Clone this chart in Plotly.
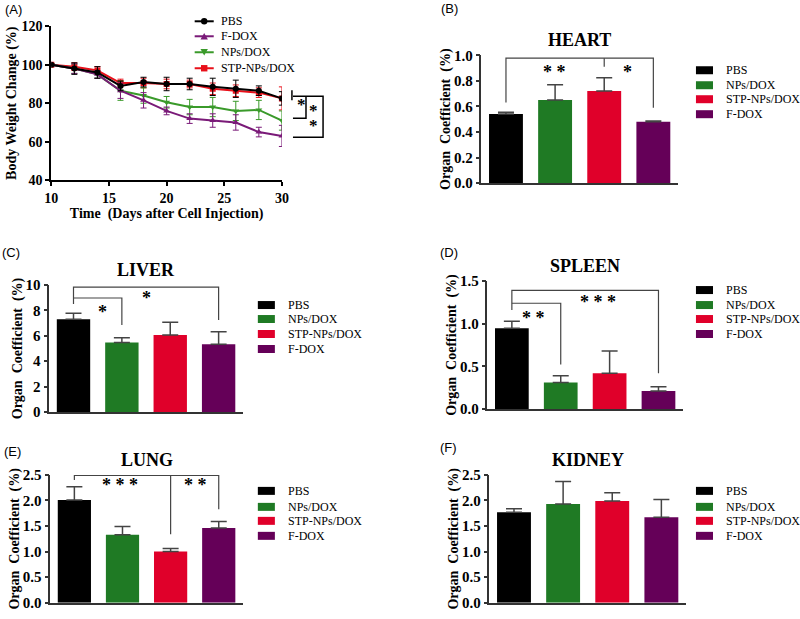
import plotly.graph_objects as go

W, H = 800, 619
# the photographed page comes out slightly shrunk toward an 8px border;
# layout positions below are given in final-picture pixels and mapped back here
AX, BX = 7.8, 0.98
AY, BY = 7.7, 0.975
SERIF = "Liberation Serif"
SANS = "Liberation Sans"

# ---------------- data ----------------
days = [10, 12, 14, 16, 18, 20, 22, 24, 26, 28, 30]
pbs_w = [100, 98, 96, 89, 91, 90, 90, 88.5, 87.5, 86.5, 82.5]
pbs_w_err = [0.5, 3, 3, 2.5, 2.5, 3.5, 3, 4.5, 4.5, 2.5, 3.5]
fdox_w = [100, 98, 95, 86.5, 81.5, 76, 72, 71, 70, 65, 63]
fdox_w_err = [0.5, 2.5, 2, 4, 4, 2, 2.5, 3.5, 4, 2.5, 5.5]
nps_w = [100, 98, 95, 86.5, 84, 80.5, 78, 78, 76, 76.5, 71]
nps_w_err = [0.5, 2.5, 2, 5, 4, 3, 4, 5, 5, 5, 5]
stp_w = [100, 99, 97, 90.5, 90.5, 90, 90, 87.5, 86.5, 85.5, 82.5]
stp_w_err = [0.5, 2, 2, 2, 2.5, 2.5, 2, 3, 3, 2.5, 6]
line_legend_order = ["PBS", "F-DOX", "NPs/DOX", "STP-NPs/DOX"]

groups = ["PBS", "NPs/DOX", "STP-NPs/DOX", "F-DOX"]
heart = [0.54, 0.65, 0.72, 0.48]
heart_err = [0.015, 0.12, 0.105, 0.006]
liver = [7.3, 5.47, 6.07, 5.34]
liver_err = [0.48, 0.37, 1.0, 0.99]
spleen = [0.947, 0.31, 0.42, 0.21]
spleen_err = [0.083, 0.08, 0.26, 0.05]
lung = [2.01, 1.33, 1.0, 1.46]
lung_err = [0.26, 0.16, 0.06, 0.13]
kidney = [1.77, 1.93, 1.99, 1.67]
kidney_err = [0.07, 0.44, 0.16, 0.35]

# ---------------- styles ----------------
bar_colors = {"PBS": "#000000", "NPs/DOX": "#1f7a24", "STP-NPs/DOX": "#e0002a", "F-DOX": "#650058"}
line_styles = {
    "PBS": ("#000000", "circle"),
    "F-DOX": ("#7a1a78", "triangle-up"),
    "NPs/DOX": ("#3a9a2a", "triangle-down"),
    "STP-NPs/DOX": ("#e8101a", "square"),
}


def px(x):
    return ((x - AX) / BX) / W


def py(y):
    return 1 - ((y - AY) / BY) / H


fig = go.Figure()
shapes = []
annotations = []
legend_font = dict(family=SERIF, size=12, color="black")

# ---------------- panel A ----------------
A_X = (52, 282)
A_Y = (180, 26)
A_XR = (10, 30)
A_YR = (40, 120)

line_series = [
    ("STP-NPs/DOX", stp_w, stp_w_err),
    ("NPs/DOX", nps_w, nps_w_err),
    ("F-DOX", fdox_w, fdox_w_err),
    ("PBS", pbs_w, pbs_w_err),
]
for name, vals, errs in line_series:
    col, sym = line_styles[name]
    fig.add_trace(go.Scatter(
        x=days, y=vals, name=name, mode="lines+markers",
        line=dict(color=col, width=2), marker=dict(color=col, symbol=sym, size=6),
        error_y=dict(type="data", array=errs, visible=True, color=col, thickness=1, width=3),
        xaxis="x", yaxis="y", showlegend=False,
    ))


def a_to_paper(xv, yv):
    xp = A_X[0] + (xv - A_XR[0]) / (A_XR[1] - A_XR[0]) * (A_X[1] - A_X[0])
    yp = A_Y[0] + (yv - A_YR[0]) / (A_YR[1] - A_YR[0]) * (A_Y[1] - A_Y[0])
    return px(xp), py(yp)


# significance brackets for panel A (data units, beyond the x range)
A_brackets = [
    [(30.87, 86.8), (30.87, 81.6)],
    [(30.96, 83.6), (33.57, 83.6), (33.57, 62.3), (30.96, 62.3)],
    [(32.09, 83.6), (32.09, 72.2), (30.96, 72.2)],
]
A_stars = [("*", 31.74, 79.5), ("*", 32.78, 76.2), ("*", 32.78, 68.4)]

for br in A_brackets:
    pts = [a_to_paper(a, b) for a, b in br]
    path = "M " + " L ".join(f"{a},{b}" for a, b in pts)
    shapes.append(dict(type="path", path=path, xref="paper", yref="paper",
                       line=dict(color="black", width=1.5)))
for t, a, b in A_stars:
    xa, ya = a_to_paper(a, b)
    annotations.append(dict(text=t, x=xa, y=ya, xref="paper", yref="paper", showarrow=False,
                            font=dict(family=SERIF, size=17, color="black", weight="bold"),
                            xanchor="center", yanchor="middle"))

# legend for panel A (line + marker glyphs)
A_leg_rows = [21, 36, 52, 68]
for name, ry in zip(line_legend_order, A_leg_rows):
    col, sym = line_styles[name]
    shapes.append(dict(type="line", xref="paper", yref="paper", x0=px(195), x1=px(214),
                       y0=py(ry), y1=py(ry), line=dict(color=col, width=2)))
    cx, r = 204.5, 3.2
    if sym == "circle":
        shapes.append(dict(type="circle", xref="paper", yref="paper", x0=px(cx - r), x1=px(cx + r),
                           y0=py(ry + r), y1=py(ry - r), fillcolor=col, line=dict(color=col, width=0)))
    elif sym == "square":
        shapes.append(dict(type="rect", xref="paper", yref="paper", x0=px(cx - r), x1=px(cx + r),
                           y0=py(ry + r), y1=py(ry - r), fillcolor=col, line=dict(color=col, width=0)))
    else:
        s = 1 if sym == "triangle-up" else -1
        pts = [(cx - r - 0.5, ry + s * r), (cx + r + 0.5, ry + s * r), (cx, ry - s * r)]
        path = "M " + " L ".join(f"{px(a)},{py(b)}" for a, b in pts) + " Z"
        shapes.append(dict(type="path", path=path, xref="paper", yref="paper",
                           fillcolor=col, line=dict(color=col, width=0)))
    annotations.append(dict(text=name, x=px(219), y=py(ry), xref="paper", yref="paper",
                            showarrow=False, xanchor="left", yanchor="middle", font=legend_font))

axis_common = dict(showline=True, linecolor="black", ticks="outside", tickcolor="black",
                   showgrid=False, zeroline=False, mirror=False)
tick_font_A = dict(family=SERIF, size=14, color="black", weight="bold")
title_font = dict(family=SERIF, size=14, color="black", weight="bold")

layout = dict(
    xaxis=dict(domain=[px(A_X[0]), px(A_X[1])], range=list(A_XR), anchor="y",
               tickvals=[10, 15, 20, 25, 30], ticklen=4, tickwidth=2, linewidth=2,
               tickfont=tick_font_A,
               title=dict(text="Time\u00a0\u00a0(Days after Cell Injection)", font=title_font, standoff=0),
               **axis_common),
    yaxis=dict(domain=[py(A_Y[0]), py(A_Y[1])], range=list(A_YR), anchor="x",
               tickvals=[40, 60, 80, 100, 120], ticklen=4, tickwidth=2, linewidth=2,
               tickfont=tick_font_A,
               title=dict(text="Body Weight Change (%)", font=title_font, standoff=2),
               **axis_common),
)

# ---------------- bar panels ----------------
bar_panels = [
    # key, title, values, errors, x-pixels, y-pixels (bottom, top), y-range, dtick, fmt, label, label pos, legend (x, rows)
    ("2", "HEART", heart, heart_err, (481, 677), (183, 55), (0, 1.0), 0.2, ".1f", "(B)", (449, 8),
     (695, [70, 85, 99, 114])),
    ("3", "LIVER", liver, liver_err, (50, 243), (412, 285), (0, 10), 2, "d", "(C)", (12, 252),
     (258, [305, 319, 334, 349])),
    ("4", "SPLEEN", spleen, spleen_err, (487, 682), (409, 281), (0, 1.5), 0.5, ".1f", "(D)", (449, 252),
     (695, [290, 305, 319, 334])),
    ("5", "LUNG", lung, lung_err, (51, 243), (603, 475), (0, 2.5), 0.5, ".1f", "(E)", (13, 452),
     (258, [491, 507, 521, 536])),
    ("6", "KIDNEY", kidney, kidney_err, (489, 685), (603, 475), (0, 2.5), 0.5, ".1f", "(F)", (448, 448),
     (695, [491, 507, 521, 536])),
]

brackets = {
    "2": [[(0, 0.63), (0, 0.977), (3, 0.977), (3, 0.59)], [(2, 0.977), (2, 0.91)]],
    "3": [[(0, 8.5), (0, 9.84), (3, 9.84), (3, 7.24)], [(0, 8.98), (1, 8.98), (1, 6.85)]],
    "4": [[(0, 1.16), (0, 1.39), (3, 1.39), (3, 0.42)], [(0, 1.24), (1, 1.24), (1, 0.52)]],
    "5": [[(0, 2.40), (0, 2.49), (3, 2.49), (3, 1.83)], [(2, 2.49), (2, 1.34)]],
    "6": [],
}
stars = {
    "2": [("* *", 0.98, 0.87), ("*", 2.48, 0.87)],
    "3": [("*", 0.6, 7.9), ("*", 1.51, 9.0)],
    "4": [("* *", 0.44, 1.07), ("* * *", 1.77, 1.25)],
    "5": [("* * *", 0.94, 2.30), ("* *", 2.52, 2.30)],
    "6": [],
}

tick_font_B = dict(family=SERIF, size=15, color="black", weight="bold")

for key, title, vals, errs, xpx, ypx, yr, dt, fmt, lab, labpos, leg in bar_panels:
    xa, ya = "x" + key, "y" + key
    for i, g in enumerate(groups):
        fig.add_trace(go.Bar(
            x=[i], y=[vals[i]], name=g, width=0.69,
            marker=dict(color=bar_colors[g], line=dict(width=0)),
            error_y=dict(type="data", symmetric=False, array=[errs[i]], arrayminus=[0],
                         color="#444444", thickness=1.5, width=8, visible=True),
            xaxis=xa, yaxis=ya, showlegend=False,
        ))
    layout["xaxis" + key] = dict(domain=[px(xpx[0]), px(xpx[1])], range=[-0.5, 3.5], anchor=ya,
                                 showticklabels=False, showline=True, linecolor="#333333",
                                 linewidth=1.5, ticks="", showgrid=False, zeroline=False)
    layout["yaxis" + key] = dict(domain=[py(ypx[0]), py(ypx[1])], range=list(yr), anchor=xa,
                                 dtick=dt, tick0=0, tickformat=fmt, ticklen=4, tickwidth=1.5,
                                 linewidth=1.5, linecolor="#333333", tickcolor="#333333",
                                 tickfont=tick_font_B, ticks="outside", showgrid=False, zeroline=False,
                                 title=dict(text="Organ\u00a0\u00a0Coefficient\u00a0\u00a0(%)",
                                            font=title_font, standoff=0))
    # panel title and label
    annotations.append(dict(text=f"<b>{title}</b>", x=0.5, y=py(ypx[1] - 15), xref=xa + " domain",
                            yref="paper", showarrow=False, xanchor="center", yanchor="middle",
                            font=dict(family=SERIF, size=18, color="black")))
    annotations.append(dict(text=lab, x=px(labpos[0]), y=py(labpos[1]), xref="paper", yref="paper",
                            showarrow=False, xanchor="center", yanchor="middle",
                            font=dict(family=SANS, size=13, color="black")))
    # legend
    lx, rows = leg
    for g, ry in zip(groups, rows):
        shapes.append(dict(type="rect", xref="paper", yref="paper", x0=px(lx), x1=px(lx + 17),
                           y0=py(ry + 4), y1=py(ry - 4), fillcolor=bar_colors[g], line=dict(width=0)))
        annotations.append(dict(text=g, x=px(lx + 28), y=py(ry), xref="paper", yref="paper",
                                showarrow=False, xanchor="left", yanchor="middle", font=legend_font))
    # significance brackets
    for br in brackets[key]:
        path = "M " + " L ".join(f"{a},{b}" for a, b in br)
        shapes.append(dict(type="path", path=path, xref=xa, yref=ya,
                           line=dict(color="#444444", width=1.2)))
    for t, a, b in stars[key]:
        annotations.append(dict(text=t, x=a, y=b, xref=xa, yref=ya, showarrow=False,
                                xanchor="center", yanchor="middle",
                                font=dict(family=SERIF, size=18, color="black", weight="bold")))

annotations.append(dict(text="(A)", x=px(14), y=py(9), xref="paper", yref="paper",
                        showarrow=False, xanchor="center", yanchor="middle",
                        font=dict(family=SANS, size=13, color="black")))

layout.update(dict(
    width=W, height=H, margin=dict(l=0, r=0, t=0, b=0),
    paper_bgcolor="white", plot_bgcolor="white",
    font=dict(family=SERIF, color="black"),
    barmode="overlay", showlegend=False,
    shapes=shapes, annotations=annotations,
))
fig.update_layout(**layout)
fig.write_html("out.html", config={"displayModeBar": False},
               post_script="document.body.style.margin='0px';document.body.style.overflow='hidden';")
